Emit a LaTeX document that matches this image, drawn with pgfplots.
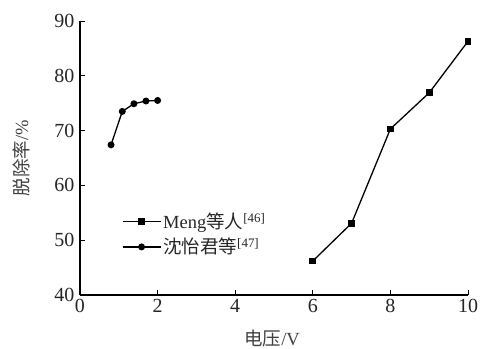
\documentclass[border=0pt]{standalone}
\usepackage{pgfplots}
\pgfplotsset{compat=1.18}
\usepackage{fontspec}
\setmainfont{Liberation Serif}
\newfontfamily\cjk{Noto Sans CJK SC}
\begin{document}
\begin{tikzpicture}[x=1bp,y=1bp]
\begin{axis}[
  at={(0bp,0bp)}, anchor=south west,
  scale only axis,
  width=388bp, height=274bp,
  xmin=0, xmax=10, ymin=40, ymax=90,
  axis x line*=bottom, axis y line*=left,
  axis line style={line width=1.3bp, -},
  xtick={0,2,4,6,8,10}, ytick={40,50,...,90},
  tick align=inside, major tick length=5bp,
  tick style={line width=1bp, black},
  /pgf/number format/assume math mode=true,
  ticklabel style={font=\fontsize{20bp}{22bp}\selectfont, text=black!85},
  xticklabel style={yshift=-1bp},
  yticklabel style={xshift=-2bp},
  xlabel={{\cjk 电压}/V},
  ylabel={{\cjk 脱除率}/\%},
  label style={font=\fontsize{18.5bp}{20bp}\selectfont, text=black!75},
  xlabel style={at={(axis description cs:0.495,-0.157)}, anchor=center},
  ylabel style={at={(axis description cs:-0.152,0.5)}, anchor=center},
  legend style={at={(0.105,0.31)}, anchor=north west, draw=none, fill=none,
    font=\fontsize{18.5bp}{20bp}\selectfont, row sep=4bp, inner sep=1bp, text=black!85},
  legend cell align=left,
  legend image code/.code={
    \draw[#1, line width=1.3bp] (0bp,0bp) -- (38bp,0bp);
    \draw[#1, mark repeat=1] plot coordinates {(19bp,0bp)};
  },
]
\addplot[black, line width=1.3bp, mark=square*, mark size=2.8bp] coordinates {
(6,46.2) (7,53.1) (8,70.3) (9,76.9) (10,86.3)};
\addlegendentry{Meng{\cjk 等人}\textsuperscript{[46]}}
\addplot[black, line width=1.3bp, mark=*, mark size=2.8bp] coordinates {
(0.8,67.4) (1.09,73.5) (1.39,74.9) (1.7,75.4) (2.0,75.5)};
\addlegendentry{{\cjk 沈怡君等}\textsuperscript{[47]}}
\end{axis}
\pgfresetboundingbox
\path (-80bp,-54bp) rectangle (401bp,295bp);
\end{tikzpicture}
\end{document}
